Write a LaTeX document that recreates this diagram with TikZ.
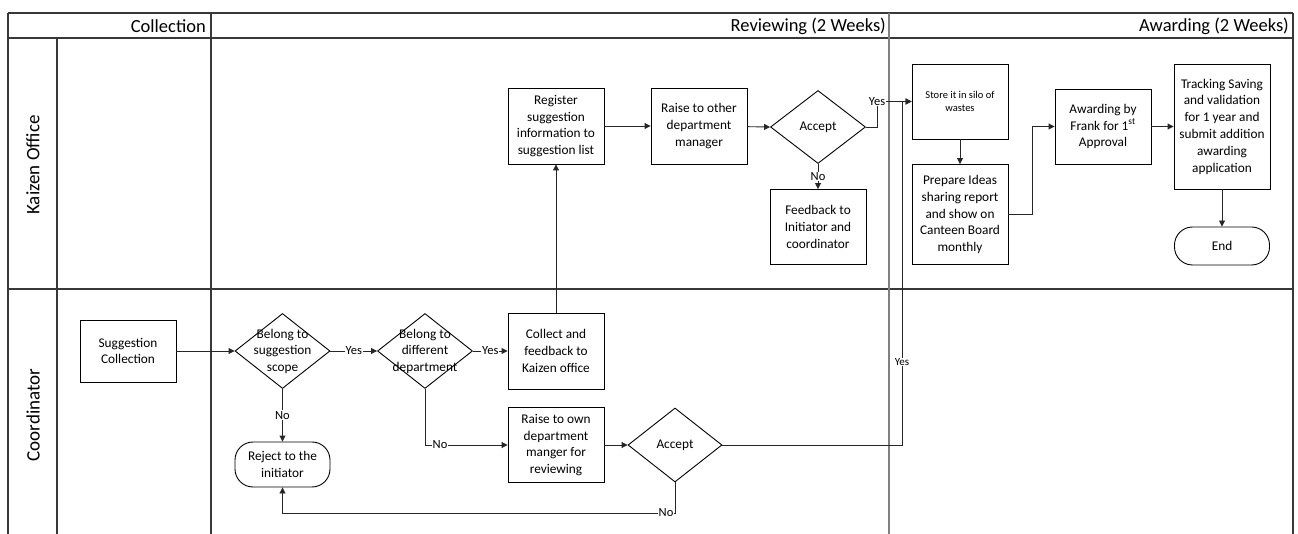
\documentclass[tikz,border=0pt]{standalone}
\usepackage{fontspec}
\setmainfont{Carlito}
\usetikzlibrary{arrows.meta,shapes.geometric}

\tikzset{
  lane/.style={draw=black!78, line width=1.1pt},
  phaseline/.style={draw=black!50, line width=1.8pt},
  procbox/.style={draw, line width=0.9pt, minimum width=96pt, align=center,
    inner sep=2pt, font=\fontsize{13.3}{16.8}\selectfont},
  decision/.style={draw, diamond, line width=0.9pt, minimum width=95pt,
    minimum height=75pt, inner sep=0pt},
  dtext/.style={align=center, inner sep=0pt, font=\fontsize{13.3}{16.5}\selectfont},
  terminal/.style={draw, line width=0.9pt, rounded corners=18pt, minimum width=95pt,
    align=center, inner sep=2pt, font=\fontsize{13.3}{16.5}\selectfont},
  flow/.style={draw=black!85, line width=0.9pt, -{Triangle[length=6pt,width=6pt]}},
  flowlab/.style={fill=white, inner sep=0.8pt, font=\fontsize{12.5}{14}\selectfont},
  smalllab/.style={fill=white, inner sep=0.8pt, font=\fontsize{11}{13}\selectfont},
  header/.style={anchor=east, inner sep=0pt, font=\fontsize{18.5}{20}\selectfont},
  lanelabel/.style={rotate=90, inner sep=0pt, font=\fontsize{19}{21}\selectfont},
}

\begin{document}
\begin{tikzpicture}[x=1pt, y=-1pt]
\useasboundingbox (0,0) rectangle (1298,534);

% ---- swimlane frame ----
\draw[lane] (8,13) -- (1293,13);
\draw[lane] (8,38) -- (1293,38);
\draw[lane] (8,289) -- (1293,289);
\draw[lane] (8,13) -- (8,534);
\draw[lane] (57,38) -- (57,534);
\draw[lane] (211,13) -- (211,534);
\draw[phaseline] (889,13) -- (889,534);
\draw[lane] (1293,13) -- (1293,534);

\node[header] (hcol) at (206,26) {Collection};
\node[header] (hrev) at (886,26) {Reviewing (2 Weeks)};
\node[header] (hawd) at (1289,26) {Awarding (2 Weeks)};

\node[lanelabel] (lkai) at (33,165) {Kaizen Office};
\node[lanelabel] (lcoo) at (33,415) {Coordinator};

% ---- Kaizen Office lane ----
\node[procbox, minimum height=76pt] (reg) at (556,126)
  {Register\\suggestion\\information to\\suggestion list};
\node[procbox, minimum height=76pt] (raiseo) at (699,126)
  {Raise to other\\department\\manager};
\node[decision, minimum width=95pt, minimum height=73pt] (acc1) at (818,127) {};
\node[dtext] (acc1t) at (818,127) {Accept};
\node[procbox, minimum height=75pt] (fb) at (818,227)
  {Feedback to\\Initiator and\\coordinator};

\node[procbox, minimum height=75pt, font=\fontsize{10.5}{13}\selectfont] (store) at (960,101.5)
  {Store it in silo of\\wastes};
\node[procbox, minimum height=100pt] (prep) at (960,214.5)
  {Prepare Ideas\\sharing report\\and show on\\Canteen Board\\monthly};
\node[procbox, minimum height=75pt] (award) at (1103,126.5)
  {Awarding by\\Frank for 1\textsuperscript{st}\\Approval};
\node[procbox, minimum height=125pt] (track) at (1222,126.5)
  {Tracking Saving\\and validation\\for 1 year and\\submit addition\\awarding\\application};
\node[terminal, minimum height=38pt] (endn) at (1222,246) {End};

% ---- Coordinator lane ----
\node[procbox, minimum height=62pt] (sc) at (128,351) {Suggestion\\Collection};
\node[decision] (d1) at (282.5,351) {};
\node[dtext] (d1t) at (282.5,351) {Belong to\\suggestion\\scope};
\node[decision] (d2) at (425,351) {};
\node[dtext] (d2t) at (425,351) {Belong to\\different\\department};
\node[procbox, minimum height=76pt] (collect) at (556,351)
  {Collect and\\feedback to\\Kaizen office};
\node[procbox, minimum height=75pt] (raisew) at (556,445)
  {Raise to own\\department\\manger for\\reviewing};
\node[decision, minimum width=94pt, minimum height=74pt] (acc2) at (675,445) {};
\node[dtext] (acc2t) at (675,445) {Accept};
\node[terminal, minimum height=45pt] (rej) at (282.5,464.5) {Reject to the\\initiator};

% bend points of the connectors
\coordinate (ya) at (877,101.5);
\coordinate (yb) at (902,101.5);
\coordinate (nb) at (675,513);

% ---- connectors ----
\draw[flow] (reg) -- (raiseo);
\draw[flow] (raiseo) -- (acc1.west);
\draw[flow] (acc1.south) -- (fb.north) node[flowlab, pos=0.5] (lno1) {No};
\draw[flow] (acc1.east) -| (ya) -- (store.west);
\node[flowlab] (lyes1) at (ya) {Yes};
\draw[flow] (store) -- (prep);
\draw[flow] (prep.east) -- ++(24,0) |- (award.west);
\draw[flow] (award) -- (track);
\draw[flow] (track) -- (endn);

\draw[flow] (sc) -- (d1.west);
\draw[flow] (d1.east) -- (d2.west) node[flowlab, midway] (lyes2) {Yes};
\draw[flow] (d2.east) -- (collect.west) node[flowlab, midway] (lyes3) {Yes};
\draw[flow] (collect) -- (reg);
\draw[flow] (d1.south) -- (rej.north) node[flowlab, pos=0.5] (lno2) {No};
\draw[flow] (d2.south) |- (raisew.west);
\node[flowlab] (lno3) at (440,445) {No};
\draw[flow] (raisew) -- (acc2.west);
\draw[flow] (acc2.east) -| (yb) -- (store.west);
\node[smalllab] (lyes4) at (902,362) {Yes};
\draw[flow] (acc2.south) -- (nb) -| (rej.south);
\node[flowlab] (lno4) at (666,513) {No};
\end{tikzpicture}
\end{document}
